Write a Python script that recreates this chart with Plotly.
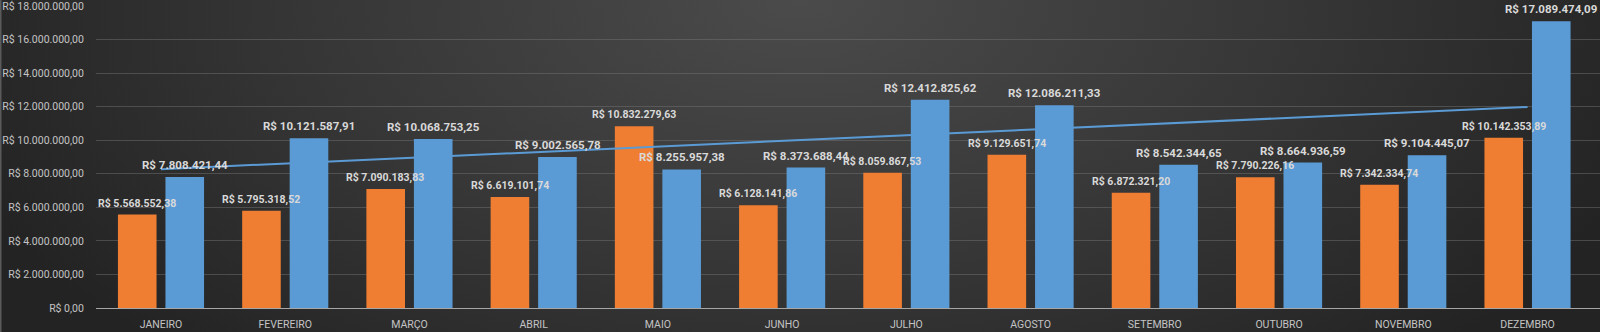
import base64
import numpy as np
import plotly.graph_objects as go

months = ["JANEIRO", "FEVEREIRO", "MARÇO", "ABRIL", "MAIO", "JUNHO", "JULHO",
          "AGOSTO", "SETEMBRO", "OUTUBRO", "NOVEMBRO", "DEZEMBRO"]
orange_vals = [5568552.38, 5795318.52, 7090183.83, 6619101.74, 10832279.63, 6128141.86,
               8059867.53, 9129651.74, 6872321.20, 7790226.16, 7342334.74, 10142353.89]
blue_vals = [7808421.44, 10121587.91, 10068753.25, 9002565.78, 8255957.38, 8373688.44,
             12412825.62, 12086211.33, 8542344.65, 8664936.59, 9104445.07, 17089474.09]
y_ticks = [0, 2000000, 4000000, 6000000, 8000000, 10000000, 12000000, 14000000,
           16000000, 18000000]


def brl(v):
    s = f"{v:,.2f}"
    s = s.replace(",", "X").replace(".", ",").replace("X", ".")
    return "R$ " + s


y_tick_text = [brl(v) for v in y_ticks]

ORANGE = "#ef7e32"
BLUE = "#5b9bd5"
FONT = "Roboto"

# trend line (linear) of the blue series
xi = np.arange(1, len(blue_vals) + 1)
slope, intercept = np.polyfit(xi, blue_vals, 1)
trend = slope * xi + intercept

fig = go.Figure()
fig.add_trace(go.Bar(x=months, y=orange_vals, marker=dict(color=ORANGE, line=dict(width=0)),
                     offsetgroup="a", name="A", hoverinfo="skip"))
fig.add_trace(go.Bar(x=months, y=blue_vals, marker=dict(color=BLUE, line=dict(width=0)),
                     offsetgroup="b", name="B", hoverinfo="skip"))
fig.add_trace(go.Scatter(x=months, y=trend, mode="lines",
                         line=dict(color=BLUE, width=2), hoverinfo="skip"))

annotations = []
for m, v in zip(months, orange_vals):
    annotations.append(dict(x=m, y=v, xref="x", yref="y", text=brl(v), showarrow=False,
                            xshift=-24, yanchor="bottom", yshift=3,
                            font=dict(family=FONT, size=10.5, color="#d9d9d9", weight="bold")))
for m, v in zip(months, blue_vals):
    annotations.append(dict(x=m, y=v, xref="x", yref="y", text=brl(v), showarrow=False,
                            xshift=24, yanchor="bottom", yshift=3,
                            font=dict(family=FONT, size=11.5, color="#d9d9d9", weight="bold")))

svg = """<svg xmlns='http://www.w3.org/2000/svg' width='1600' height='332' viewBox='0 0 1600 332' preserveAspectRatio='none'>
<defs><radialGradient id='g' cx='800' cy='0' r='900' gradientUnits='userSpaceOnUse' gradientTransform='translate(800 0) scale(1 0.55) translate(-800 0)'>
<stop offset='0' stop-color='#4b4b4b'/><stop offset='0.55' stop-color='#363636'/><stop offset='1' stop-color='#232323'/></radialGradient></defs>
<rect width='1600' height='332' fill='url(#g)'/>
<rect x='0' y='0' width='1.5' height='332' fill='#5a5a5a'/></svg>"""
src = "data:image/svg+xml;base64," + base64.b64encode(svg.encode()).decode()

fig.update_layout(
    width=1600, height=332,
    margin=dict(l=96, r=0, t=6, b=24),
    paper_bgcolor="#2a2a2a", plot_bgcolor="rgba(0,0,0,0)",
    showlegend=False,
    barmode="group", bargap=0.235, bargroupgap=0.1875,
    annotations=annotations,
    images=[dict(source=src, xref="paper", yref="paper", x=-96 / 1504, y=1 + 6 / 302,
                 sizex=1600 / 1504, sizey=332 / 302, xanchor="left", yanchor="top",
                 sizing="stretch", layer="below")],
    font=dict(family=FONT, color="#bfbfbf"),
)
fig.update_xaxes(showgrid=False, showline=False, zeroline=False, ticks="outside", ticklen=6,
                 tickcolor="rgba(0,0,0,0)", tickfont=dict(size=10.5, color="#c4c4c4", family=FONT))
fig.update_yaxes(range=[0, 18000010], tickvals=y_ticks, ticktext=y_tick_text,
                 showgrid=True, gridcolor="rgba(120,120,120,0.45)", gridwidth=1,
                 zeroline=True, zerolinecolor="#a6a6a6", zerolinewidth=1,
                 showline=False, ticks="outside", ticklen=9, tickcolor="rgba(0,0,0,0)",
                 ticklabeloverflow="allow",
                 tickfont=dict(size=10.5, color="#c4c4c4", family=FONT))

fig.write_html("out.html")
